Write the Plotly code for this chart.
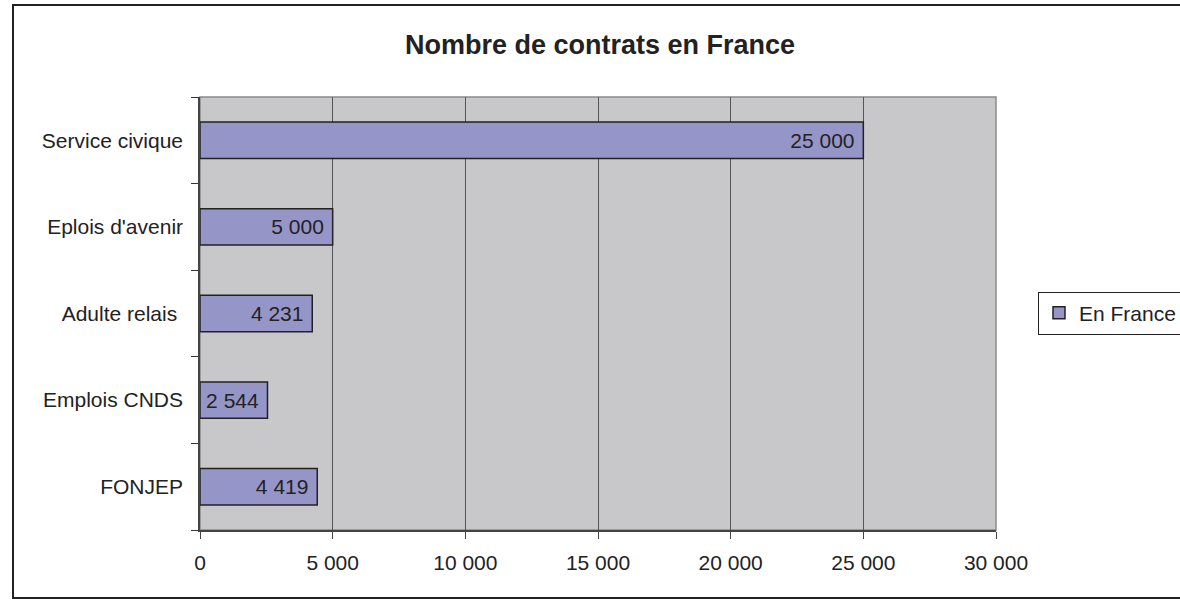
import plotly.graph_objects as go

# data (top to bottom in the picture)
categories = ["Service civique", "Eplois d'avenir", "Adulte relais ", "Emplois CNDS", "FONJEP"]
values = [25000, 5000, 4231, 2544, 4419]
series_name = "En France"
x_ticks = [0, 5000, 10000, 15000, 20000, 25000, 30000]

W, H = 1180, 600
L, R, T, B = 200, 184, 97, 70
pw, ph = W - L - R, H - T - B


def px_x(x):
    return (x - L) / pw


def px_y(y):
    return (H - B - y) / ph


font = "Liberation Sans, Arial, sans-serif"
ink = "#222222"

fig = go.Figure()

# plotly draws categories bottom-up, so reverse
fig.add_trace(
    go.Bar(
        y=categories[::-1],
        x=values[::-1],
        orientation="h",
        name=series_name,
        width=0.42,
        marker=dict(color="#9595C8", line=dict(color=ink, width=1.5)),
        texttemplate="%{x:,d}\u00a0",
        textposition="inside",
        insidetextanchor="end",
        constraintext="none",
        textfont=dict(family=font, size=21, color=ink),
        showlegend=True,
    )
)

fig.update_layout(
    width=W,
    height=H,
    margin=dict(l=L, r=R, t=T, b=B, autoexpand=False),
    paper_bgcolor="white",
    plot_bgcolor="#C8C8CA",
    separators=", ",
    font=dict(family=font, size=21, color=ink),
    title=dict(
        text="Nombre de contrats en France",
        x=600 / W,
        xanchor="center",
        y=1 - 45 / H,
        yanchor="middle",
        font=dict(family=font, size=27, color=ink, weight="bold"),
    ),
    showlegend=True,
    legend=dict(
        x=px_x(1038),
        xanchor="left",
        y=px_y(313),
        yanchor="middle",
        bordercolor=ink,
        borderwidth=1,
        bgcolor="white",
        font=dict(family=font, size=21, color=ink),
    ),
    bargap=0.58,
)

fig.update_xaxes(
    range=[0, 30000],
    tickvals=x_ticks,
    tickformat=",d",
    showgrid=True,
    gridcolor="#555555",
    gridwidth=1,
    zeroline=False,
    showline=True,
    linecolor="#444444",
    linewidth=1.5,
    ticks="outside",
    ticklen=7,
    tickcolor="#444444",
    ticklabelstandoff=6,
    fixedrange=True,
)

fig.update_yaxes(
    type="category",
    categoryorder="array",
    categoryarray=categories[::-1],
    tickson="boundaries",
    ticks="outside",
    ticklen=7,
    tickcolor="#333333",
    showgrid=False,
    showline=True,
    linecolor="#444444",
    linewidth=1.5,
    ticklabelstandoff=11,
    fixedrange=True,
)

# light plot-area border (top / right)
fig.add_shape(
    type="rect", xref="paper", yref="paper", x0=0, x1=1, y0=0, y1=1,
    line=dict(color="#8A8A8A", width=1.5), layer="below",
)

# outer chart border
fig.add_shape(
    type="rect", xref="paper", yref="paper",
    x0=px_x(13), x1=px_x(1190), y0=px_y(598), y1=px_y(5),
    line=dict(color="#222222", width=2),
)

# drop the default page margin so the figure sits at the window's corner
fig.write_html(
    "out.html",
    config={"displayModeBar": False},
    post_script="document.body.style.margin='0';",
)
